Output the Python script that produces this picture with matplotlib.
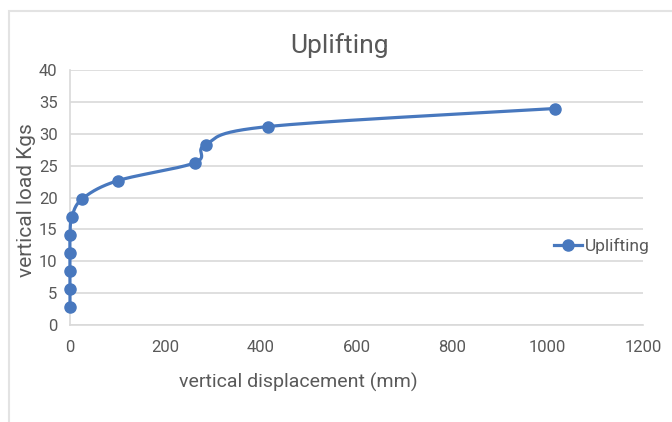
import numpy as np
import matplotlib
matplotlib.use('Agg')
import matplotlib.pyplot as plt
from matplotlib.patches import Rectangle

# data
displacement = [0, 0, 0, 0, 0, 4, 26, 100, 262, 284, 415, 1016]
load = [2.83, 5.66, 8.49, 11.32, 14.15, 16.98, 19.81, 22.64, 25.47, 28.30, 31.13, 33.96]
x_ticks = [0, 200, 400, 600, 800, 1000, 1200]
y_ticks = [0, 5, 10, 15, 20, 25, 30, 35, 40]

blue = '#4878BE'
grey_text = '#595959'
grid_col = '#D9D9D9'

plt.rcParams['font.family'] = ['Roboto', 'DejaVu Sans']

fig = plt.figure(figsize=(6.72, 4.22), dpi=100)
ax = fig.add_axes([70 / 672, 1 - 325 / 422, 573 / 672, 255 / 422])


# excel-like smoothed line (bezier through the points), done in screen space
def smooth(xs, ys, sx, sy, n=30):
    p = np.column_stack([np.array(xs) * sx, np.array(ys) * sy])
    p = np.vstack([p[0], p, p[-1]])
    out = []
    for i in range(1, len(p) - 2):
        p0, p1, p2, p3 = p[i - 1], p[i], p[i + 1], p[i + 2]
        c1 = p1 + (p2 - p0) / 6
        c2 = p2 - (p3 - p1) / 6
        t = np.linspace(0, 1, n)[:, None]
        seg = (1 - t) ** 3 * p1 + 3 * (1 - t) ** 2 * t * c1 + 3 * (1 - t) * t ** 2 * c2 + t ** 3 * p2
        out.append(seg)
    out = np.vstack(out)
    return out[:, 0] / sx, out[:, 1] / sy


sx = 573 / 1200
sy = 255 / 40
cx, cy = smooth(displacement, load, sx, sy)
ax.plot(cx, cy, color=blue, lw=2.3, solid_capstyle='round', zorder=5, clip_on=False)
ax.plot(displacement, load, 'o', color=blue, ms=8, zorder=6, clip_on=False)
# legend handle
ax.plot([], [], color=blue, lw=2.3, marker='o', ms=8, label='Uplifting')

ax.set_xlim(0, 1200)
ax.set_ylim(0, 40)
ax.set_xticks(x_ticks)
ax.set_yticks(y_ticks)
ax.grid(axis='y', color=grid_col, lw=1.2)
ax.set_axisbelow(True)
for s in ['top', 'right']:
    ax.spines[s].set_visible(False)
for s in ['left', 'bottom']:
    ax.spines[s].set_color(grid_col)
    ax.spines[s].set_linewidth(1.2)
    ax.spines[s].set_zorder(1)
ax.tick_params(length=0, labelsize=12, labelcolor=grey_text)
ax.tick_params(axis='x', pad=11)
ax.tick_params(axis='y', pad=9)

ax.set_xlabel('vertical displacement (mm)', fontsize=14, color=grey_text)
ax.set_ylabel('vertical load Kgs', fontsize=15, color=grey_text)
ax.xaxis.set_label_coords(298 / 573 - 70 / 573, -(382 - 325) / 255)
ax.xaxis.label.set_va('center')
ax.yaxis.set_label_coords(-(70 - 27) / 573, (325 - 200) / 255)
ax.yaxis.label.set_va('center')

fig.text(340 / 672, 1 - 46 / 422, 'Uplifting', fontsize=19, color=grey_text,
         ha='center', va='center')

ax.legend(loc='center left', bbox_to_anchor=(554 / 672, 1 - 246 / 422),
          bbox_transform=fig.transFigure, frameon=False, fontsize=12.5,
          labelcolor=grey_text, handlelength=1.6, handletextpad=0.2,
          borderpad=0, borderaxespad=0)

fig.add_artist(Rectangle((8.5 / 672, -0.1), 1.2, 1 - 11.5 / 422 + 0.1,
                         transform=fig.transFigure, fill=False,
                         edgecolor='#E3E3E3', lw=1.5))

fig.savefig('out.png', dpi=100)
